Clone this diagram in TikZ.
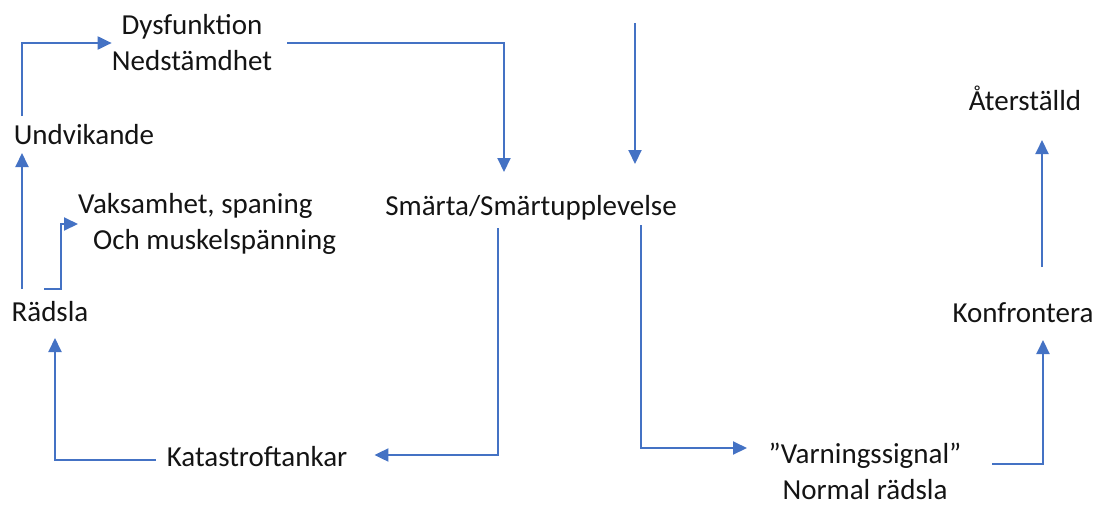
\documentclass[tikz,border=0pt]{standalone}
\usepackage{fontspec}
\setmainfont{Carlito}
\usetikzlibrary{arrows.meta}
\definecolor{lineblue}{RGB}{68,114,196}
\definecolor{txt}{RGB}{20,20,20}
\begin{document}
\begin{tikzpicture}[x=1pt,y=-1pt,
  lbl/.style={inner sep=0pt, text=txt, font=\fontsize{29}{36}\selectfont, align=center},
  ln/.style={draw=lineblue, line width=2pt},
  arr/.style={ln, -{Triangle[length=14pt,width=13pt]}}]
\useasboundingbox (0,0) rectangle (1097,504);
\node[lbl] (Dys) at (192,43) {Dysfunktion\\Nedstämdhet};
\node[lbl] (Und) at (84,135) {Undvikande};
\node[lbl, anchor=west, align=left] (Vak) at (78,224) {Vaksamhet, spaning\\\hspace*{15pt}Och muskelspänning};
\node[lbl] (Rad) at (50,312) {Rädsla};
\node[lbl] (Sma) at (531,208) {Smärta/Smärtupplevelse};
\node[lbl] (Kat) at (257,457) {Katastroftankar};
\node[lbl] (Var) at (865,471) {”Varningssignal”\\Normal rädsla};
\node[lbl] (Ate) at (1025,98) {Återställd};
\node[lbl] (Kon) at (1023,313) {Konfrontera};
\coordinate (top) at (635,23);
% Undvikande -> Dysfunktion
\draw[arr] ([shift={(-62,-19)}]Und.center) |- (Dys.west);
% Rädsla -> Undvikande
\draw[arr] ([shift={(-28,-23)}]Rad.center) -- ([shift={(-62,18)}]Und.center);
% Rädsla -> Vaksamhet
\draw[arr] ([shift={(-6,-23)}]Rad.center) -| ([xshift=-17pt]Vak.west) -- (Vak.west);
% Dysfunktion -> Smärta
\draw[arr] ([xshift=15pt]Dys.east) -| ([shift={(-27,-36)}]Sma.center);
% top -> Smärta
\draw[arr] (top) -- ([shift={(104,-44)}]Sma.center);
% Smärta -> Katastroftankar
\draw[arr] ([shift={(-33,20)}]Sma.center) |- ([shift={(27,-2)}]Kat.east);
% Katastroftankar -> Rädsla
\draw[arr] ([shift={(-11,3)}]Kat.west) -| ([shift={(5,26)}]Rad.center);
% Smärta -> Varningssignal
\draw[arr] ([shift={(110,17)}]Sma.center) |- ([shift={(-118,-23)}]Var.center);
% Varningssignal -> Konfrontera
\draw[arr] ([shift={(127,-7)}]Var.center) -| ([shift={(20,27)}]Kon.center);
% Konfrontera -> Återställd
\draw[arr] ([shift={(19,-46)}]Kon.center) -- ([shift={(17,42)}]Ate.center);
\end{tikzpicture}
\end{document}
